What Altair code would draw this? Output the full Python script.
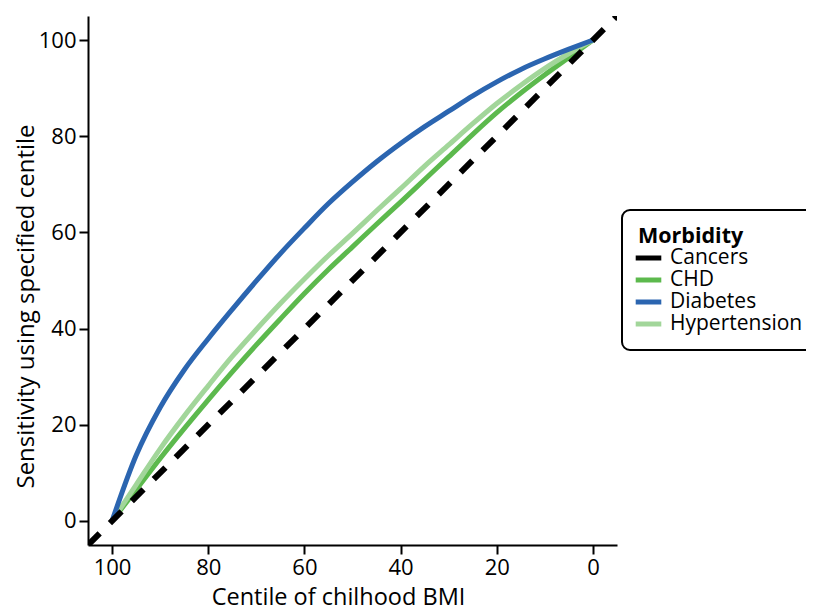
import altair as alt
import pandas as pd

# ---- data ----
centile = [100, 95, 90, 85, 80, 75, 70, 65, 60, 55, 50, 45, 40, 35, 30, 25, 20, 15, 10, 5, 0]
diabetes = [0, 13.6, 23.6, 31.4, 37.9, 44.0, 49.9, 55.6, 60.9, 66.0, 70.5, 74.7, 78.5, 82.0, 85.2, 88.4, 91.3, 93.9, 96.1, 98.1, 100]
chd = [0, 6.5, 13.0, 19.2, 25.2, 31.0, 36.6, 42.0, 47.3, 52.3, 57.0, 61.7, 66.3, 71.0, 75.7, 80.4, 84.9, 89.0, 92.8, 96.4, 100]
hypertension = [0, 7.5, 15.0, 21.8, 28.1, 34.2, 39.8, 45.2, 50.3, 55.2, 59.8, 64.5, 69.1, 73.8, 78.2, 82.6, 86.8, 90.6, 94.1, 97.2, 100]

# Cancers: coincides with the line of no discrimination (dashed diagonal)
cancers_centile = [105, -5]
cancers_sens = [-5, 105]

morbidity = ["Cancers", "CHD", "Diabetes", "Hypertension"]
colors = ["#000000", "#5cb94d", "#2b65b0", "#a2d69a"]
tick_values = [0, 20, 40, 60, 80, 100]

rows = []
for name, vals in [("CHD", chd), ("Hypertension", hypertension), ("Diabetes", diabetes)]:
    for i, (c, v) in enumerate(zip(centile, vals)):
        rows.append({"centile": c, "sens": v, "Morbidity": name, "order": i})
df = pd.DataFrame(rows)
diag = pd.DataFrame({"centile": cancers_centile, "sens": cancers_sens, "order": [0, 1]})

FONT = "Open Sans"

xscale = alt.Scale(domain=[-5, 105], reverse=True, nice=False, zero=False)
yscale = alt.Scale(domain=[-5, 105], nice=False, zero=False)

xaxis = alt.Axis(values=tick_values, title="Centile of chilhood BMI", grid=False,
                 titleX=250, titleY=59, titleBaseline="alphabetic", titleAlign="center",
                 titleFontSize=23.5)
yaxis = alt.Axis(values=tick_values, title="Sensitivity using specified centile", grid=False,
                 titleX=-55, titleY=290, titleAngle=270, titleBaseline="alphabetic", titleAlign="center",
                 titleFontSize=24)

solid = alt.Chart(df).mark_line(strokeWidth=5, interpolate="monotone", clip=True).encode(
    x=alt.X("centile:Q", scale=xscale, axis=xaxis),
    y=alt.Y("sens:Q", scale=yscale, axis=yaxis),
    color=alt.Color("Morbidity:N",
                    scale=alt.Scale(domain=morbidity, range=colors),
                    legend=alt.Legend(orient="none", legendX=534, legendY=194,
                                      title="Morbidity", symbolType="M-1.6,0H1.6",
                                      symbolStrokeWidth=5, symbolSize=256,
                                      symbolFillColor="transparent")),
    order="order:Q",
)

dashed = alt.Chart(diag).mark_line(strokeWidth=6, strokeDash=[16.5, 14.5], strokeCap="butt",
                                   color="black", clip=True).encode(
    x=alt.X("centile:Q", scale=xscale),
    y=alt.Y("sens:Q", scale=yscale),
    order="order:Q",
)

chart = alt.layer(solid, dashed).properties(
    width=529, height=529,
    padding={"left": 80, "top": 8, "right": 189, "bottom": 61},
    autosize=alt.AutoSizeParams(type="none"),
).configure_view(stroke=None).configure_axis(
    domainColor="black", domainWidth=2, tickColor="black", tickWidth=2, tickSize=9,
    labelFont=FONT, labelFontSize=22, labelColor="black", labelPadding=3,
    titleFont=FONT, titleFontWeight="normal", titleColor="black",
).configure_legend(
    strokeColor="black", strokeWidth=2, cornerRadius=8, padding=16,
    titleFont=FONT, titleFontSize=21.5, titleFontWeight="bold", titleColor="black", titlePadding=0,
    labelFont=FONT, labelFontSize=21, labelColor="black", labelOffset=11, rowPadding=0,
)

chart.save("out.html", embed_options={"renderer": "svg", "actions": False})
